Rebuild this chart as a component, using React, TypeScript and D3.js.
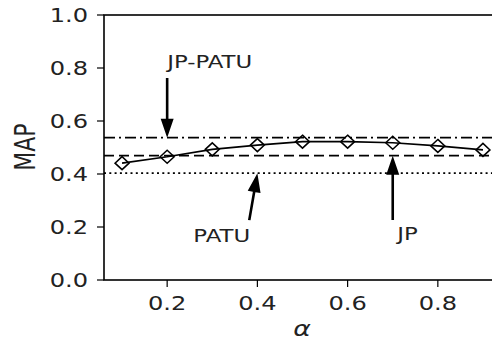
import { useEffect, useRef } from 'react';
import * as d3 from 'd3';

// MAP against alpha for the joint model, with the three reference methods as flat lines
const alphas = [0.1, 0.2, 0.3, 0.4, 0.5, 0.6, 0.7, 0.8, 0.9];
const mapScores = [0.441, 0.465, 0.493, 0.509, 0.522, 0.522, 0.518, 0.506, 0.491];

const baselineNames = ['JP-PATU', 'JP', 'PATU'];
const baselineValues = [0.537, 0.469, 0.403];

const xTicks = [0.2, 0.4, 0.6, 0.8];
const yTicks = [0.0, 0.2, 0.4, 0.6, 0.8, 1.0];

// annotation: label, arrow tip, arrow tail, text anchor (data coords)
const noteLabels = ['JP-PATU', 'PATU', 'JP'];
const noteTips = [[0.2, 0.537], [0.4, 0.403], [0.7, 0.469]];
const noteTails = [[0.2, 0.762], [0.382, 0.226], [0.7, 0.226]];
const noteText = [[0.2, 0.8], [0.258, 0.143], [0.71, 0.15]];

const W = 492;
const H = 341;
const SX = 1.27; // the figure is stretched sideways, text too
const FONT = '"DejaVu Sans", sans-serif';

export default function App() {
  const svgRef = useRef<SVGSVGElement>(null);

  useEffect(() => {
    if (!svgRef.current) return;
    const svg = d3.select(svgRef.current);
    svg.selectAll('*').remove();

    const x = d3.scaleLinear().domain([0.06, 0.94]).range([104, 501]);
    const y = d3.scaleLinear().domain([0, 1]).range([280, 15]);
    const [x0, x1] = x.range();
    const [yb, yt] = y.range();

    // stretched text helper
    const label = (tx: number, ty: number, txt: string, size: number, anchor: string, italic = false) =>
      svg
        .append('g')
        .attr('transform', `translate(${tx},${ty}) scale(${SX},1)`)
        .append('text')
        .attr('text-anchor', anchor)
        .style('font-family', FONT)
        .style('font-size', `${size}px`)
        .style('font-style', italic ? 'italic' : 'normal')
        .attr('fill', '#222')
        .text(txt);

    // baselines
    const dashes: Record<string, string> = {
      'JP-PATU': '11,4,2,4',
      JP: '10,5',
      PATU: '2,3.3',
    };
    baselineNames.forEach((name, i) => {
      svg
        .append('line')
        .attr('x1', x0)
        .attr('x2', x1)
        .attr('y1', y(baselineValues[i]))
        .attr('y2', y(baselineValues[i]))
        .attr('stroke', '#000')
        .attr('stroke-width', 1.8)
        .attr('stroke-dasharray', dashes[name]);
    });

    // main series
    const line = d3
      .line<number>()
      .x((_, i) => x(alphas[i]))
      .y((d) => y(d));
    svg
      .append('path')
      .attr('d', line(mapScores))
      .attr('fill', 'none')
      .attr('stroke', '#000')
      .attr('stroke-width', 1.6);

    svg
      .selectAll('.marker')
      .data(mapScores)
      .enter()
      .append('path')
      .attr('class', 'marker')
      .attr('transform', (d, i) => `translate(${x(alphas[i])},${y(d)})`)
      .attr('d', 'M0,-6.5L7,0L0,6.5L-7,0Z')
      .attr('fill', 'none')
      .attr('stroke', '#000')
      .attr('stroke-width', 1.5);

    // spines
    svg
      .append('rect')
      .attr('x', x0)
      .attr('y', yt)
      .attr('width', x1 - x0)
      .attr('height', yb - yt)
      .attr('fill', 'none')
      .attr('stroke', '#000')
      .attr('stroke-width', 1.6);

    // ticks
    xTicks.forEach((t) => {
      svg
        .append('line')
        .attr('x1', x(t))
        .attr('x2', x(t))
        .attr('y1', yb)
        .attr('y2', yb + 7)
        .attr('stroke', '#000')
        .attr('stroke-width', 1.2);
      label(x(t), 310, t.toFixed(1), 19, 'middle');
    });
    yTicks.forEach((t) => {
      svg
        .append('line')
        .attr('x1', x0 - 7)
        .attr('x2', x0)
        .attr('y1', y(t))
        .attr('y2', y(t))
        .attr('stroke', '#000')
        .attr('stroke-width', 1.2);
      label(88, y(t) + 7, t.toFixed(1), 19, 'end');
    });

    // axis titles
    label(302, 336, 'α', 21, 'middle', true);
    svg
      .append('g')
      .attr('transform', `translate(35,147) scale(${SX},1) rotate(-90)`)
      .append('text')
      .attr('text-anchor', 'middle')
      .style('font-family', FONT)
      .style('font-size', '22px')
      .attr('fill', '#222')
      .text('MAP');

    // annotations
    noteLabels.forEach((name, i) => {
      const tx = x(noteTails[i][0]);
      const ty = y(noteTails[i][1]);
      const hx = x(noteTips[i][0]);
      const hy = y(noteTips[i][1]);
      const len = Math.hypot(hx - tx, hy - ty);
      const ang = (Math.atan2(hy - ty, hx - tx) * 180) / Math.PI;
      const headL = 19;
      const headW = 6.5;
      const shaft = 1.3;
      const body = len - headL;
      svg
        .append('path')
        .attr('transform', `translate(${tx},${ty}) rotate(${ang})`)
        .attr(
          'd',
          `M0,${-shaft}L${body},${-shaft}L${body},${-headW}L${len},0L${body},${headW}L${body},${shaft}L0,${shaft}Z`
        )
        .attr('fill', '#000');

      label(x(noteText[i][0]), y(noteText[i][1]), name, 18, 'start');
    });
  }, []);

  return (
    <svg
      ref={svgRef}
      width={W}
      height={H}
      style={{ position: 'fixed', left: 0, top: 0, background: '#fff' }}
    />
  );
}
